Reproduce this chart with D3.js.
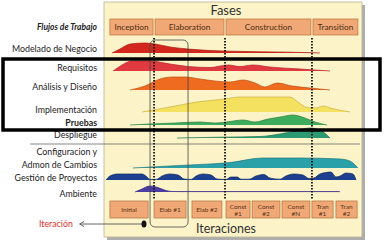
<!DOCTYPE html>
<html><head><meta charset="utf-8">
<script src="https://cdn.jsdelivr.net/npm/d3@7"></script>
<style>body{margin:0;background:#fff}svg{display:block}</style>
</head><body>
<svg id="c" width="384" height="250"></svg>
<script>
// ---------- DATA ----------
const title = "Fases";
const bottomTitle = "Iteraciones";
const leftTitle = "Flujos de Trabajo";
const phases = ["Inception", "Elaboration", "Construction", "Transition"];
const phaseBounds = [1.9, 19.4, 46.9, 80.6, 98.8]; // timeline % boundaries
const iterations = [["Initial"], ["Elab #1"], ["Elab #2"], ["Const", "#1"], ["Const", "#2"], ["Const", "#N"], ["Tran", "#1"], ["Tran", "#2"]];
const iterStart = [2.3, 19.4, 34.1, 47.3, 57.4, 69.0, 80.6, 89.9];
const iterEnd   = [17.1, 31.8, 45.7, 56.6, 68.2, 79.8, 88.8, 98.1];
const workflows = ["Modelado de Negocio", "Requisitos", "Análisis y Diseño", "Implementación", "Pruebas", "Despliegue", "Configuracion y|Admon de Cambios", "Gestión de Proyectos", "Ambiente"];
// effort curves: timeline % and effort height
const modeladoT = [3.1, 6.2, 10.1, 15.9, 19.8, 25.6, 32.6, 41.1, 48.8, 60.5, 72.1, 83.7];
const modeladoE = [0, 4, 9, 10, 9, 6, 4, 2.5, 1.8, 1.2, 0.8, 0];
const requisitosT = [3.5, 7.0, 10.9, 17.8, 25.6, 32.6, 41.1, 48.1, 52.7, 57.8, 64.3, 76.0, 87.6];
const requisitosE = [0, 6, 10, 10, 7, 4.5, 3.5, 6, 4.5, 6, 4, 2, 0];
const analisisT = [10.1, 15.9, 21.7, 26.4, 31.4, 37.2, 43.0, 48.8, 53.9, 58.5, 62.4, 67.1, 72.9, 79.8, 87.6];
const analisisE = [0, 4, 11, 13, 13, 11, 9, 8, 10, 7, 3, 7, 4, 2, 0];
const implementT = [14.7, 25.6, 36.0, 46.9, 52.7, 72.1, 75.2, 78.7, 82.6, 84.9, 88.4, 95.3];
const implementE = [0, 5, 10, 13, 15, 15, 10, 4.5, 4, 6, 3.5, 0];
const pruebasT = [10.1, 17.8, 27.5, 37.2, 43.0, 48.8, 53.9, 58.5, 63.6, 68.2, 73.3, 77.9, 81.8, 86.4];
const pruebasE = [0, 1, 2, 3, 2, 3.5, 5, 3, 6, 8, 10, 7, 3, 0];
const despliegueT = [28.3, 45.0, 60.5, 68.2, 74.0, 79.8, 83.7, 87.6];
const despliegueE = [0, 0.8, 1.5, 4, 7, 10, 8, 0];
const configT = [11.2, 21.7, 33.3, 48.8, 61.6, 76.0, 91.5, 95.3, 98.4];
const configE = [0, 1.5, 3, 5.5, 10, 10, 9, 7, 0];
const gestionT = [0.8, 2.3, 5.4, 14.7, 16.7, 17.8, 20.2, 22.5, 25.6, 28.7, 31.0, 33.7, 35.7, 38.4, 41.5, 43.8, 47.3, 49.2, 51.6, 53.1, 56.2, 58.9, 62.0, 64.3, 68.2, 70.5, 73.6, 77.1, 79.5, 81.4, 83.7, 88.0, 89.9, 91.5, 93.8, 96.5, 97.7];
const gestionE = [0, 4, 6, 6, 3, 0.6, 0.6, 4, 6, 5, 1, 0.6, 4, 6, 5, 1, 0.6, 3, 3, 0.8, 0.8, 4, 5.5, 2, 0.8, 4, 6, 5, 1.5, 2, 6, 8, 3, 4, 7, 6, 0];
const ambienteT = [12.0, 14.7, 17.8, 20.9, 24.0, 26.4, 29.5, 91.1, 91.5];
const ambienteE = [0, 3, 6, 4.5, 1.5, 0.5, 0.4, 0.4, 0];
const iterLabel = "Iteración";

// ---------- LAYOUT / STYLE ----------
const rowBase = [53, 71, 90, 112, 125, 138, 168, 180, 192];
const labelY = [52, 71, 90, 113, 126, 138, 155, 181, 197];
const colors = ["#d3261c", "#e03a40", "#ee6b20", "#f5e160", "#3dac5c", "#2a9a72", "#2aa0a8", "#1c3f8f", "#4b3ca4"];
const strokes = ["#a81810", "#b82028", "#c04a10", "#c8b040", "#2a8040", "#1d7050", "#1d7880", "#10285f", "#302080"];
const series = [[modeladoT, modeladoE], [requisitosT, requisitosE], [analisisT, analisisE], [implementT, implementE], [pruebasT, pruebasE], [despliegueT, despliegueE], [configT, configE], [gestionT, gestionE], [ambienteT, ambienteE]];
const font = "Lato, 'Open Sans', sans-serif";

const svg = d3.select("#c");
const x = d3.scaleLinear().domain([0, 100]).range([104, 362]);
const h = d3.scaleLinear().domain([0, 16]).range([0, 16]);

// panel with shadow
svg.append("rect").attr("x", 107).attr("y", 5).attr("width", 258).attr("height", 235).attr("fill", "#6a6a6a").attr("opacity", 0.55);
svg.append("rect").attr("x", 104).attr("y", 2).attr("width", 258).attr("height", 235).attr("fill", "#fcf4c8").attr("stroke", "#b9b193").attr("stroke-width", 0.8);

svg.append("text").attr("x", 226).attr("y", 15).attr("text-anchor", "middle").attr("font-family", font).attr("font-size", 13).attr("fill", "#333").text(title);

// phase header boxes
phases.forEach((p, i) => {
  const x0 = x(phaseBounds[i]) + 1, x1 = x(phaseBounds[i + 1]) - 1;
  svg.append("rect").attr("x", x0).attr("y", 19).attr("width", x1 - x0).attr("height", 16)
    .attr("fill", "#f1a877").attr("stroke", "#c07a45").attr("stroke-width", 0.8);
  svg.append("text").attr("x", (x0 + x1) / 2).attr("y", 30).attr("text-anchor", "middle")
    .attr("font-family", font).attr("font-size", 8.3).attr("fill", "#4e2e12").text(p);
});

// separator line
svg.append("line").attr("x1", 30).attr("x2", 360).attr("y1", 144).attr("y2", 144).attr("stroke", "#555").attr("stroke-width", 0.7);

// humps
series.forEach(([t, e], i) => {
  const pts = t.map((v, k) => [v, e[k]]);
  const area = d3.area().x(d => x(d[0])).y0(rowBase[i]).y1(d => rowBase[i] - h(d[1])).curve(d3.curveMonotoneX);
  const line = d3.line().x(d => x(d[0])).y(d => rowBase[i] - h(d[1])).curve(d3.curveMonotoneX);
  svg.append("path").attr("d", area(pts)).attr("fill", colors[i]);
  svg.append("path").attr("d", line(pts)).attr("fill", "none").attr("stroke", strokes[i]).attr("stroke-width", 0.7);
});

// iteration highlight (Elab #1)
svg.append("rect").attr("x", x(iterStart[1]) - 4).attr("y", 40).attr("width", x(iterEnd[1]) - x(iterStart[1]) + 6).attr("height", 187)
  .attr("rx", 5).attr("fill", "none").attr("stroke", "#444").attr("stroke-width", 0.8);

// dotted phase lines
[1, 2, 3].forEach(i => {
  const xx = x(phaseBounds[i]);
  svg.append("line").attr("x1", xx).attr("x2", xx).attr("y1", 38).attr("y2", 200)
    .attr("stroke", "#111").attr("stroke-width", 1.8).attr("stroke-dasharray", "1.5,1.5");
});

// iteration boxes
iterations.forEach((lab, i) => {
  const x0 = x(iterStart[i]), x1 = x(iterEnd[i]);
  svg.append("rect").attr("x", x0).attr("y", 201).attr("width", x1 - x0).attr("height", 17)
    .attr("fill", "#f1a877").attr("stroke", "#b87a45").attr("stroke-width", 0.8);
  lab.forEach((l, k) => {
    svg.append("text").attr("x", (x0 + x1) / 2).attr("y", lab.length === 1 ? 212 : 208.5 + k * 7)
      .attr("text-anchor", "middle").attr("font-family", font).attr("font-size", 6.5).attr("fill", "#5a3414").text(l);
  });
});

svg.append("text").attr("x", 226).attr("y", 233).attr("text-anchor", "middle").attr("font-family", font).attr("font-size", 12.5).attr("fill", "#333").text(bottomTitle);

// left labels
svg.append("text").attr("x", 97).attr("y", 30).attr("text-anchor", "end").attr("font-family", font)
  .attr("font-size", 8.5).attr("font-weight", "bold").attr("font-style", "italic").attr("fill", "#222").text(leftTitle);
workflows.forEach((w, i) => {
  const parts = w.split("|");
  parts.forEach((p, k) => {
    svg.append("text").attr("x", 97).attr("y", labelY[i] + (k - parts.length + 1) * 13 + (parts.length > 1 ? 13 : 0))
      .attr("text-anchor", "end").attr("font-family", font).attr("font-size", 8.8)
      .attr("font-weight", i === 4 ? "bold" : "normal").attr("fill", "#222").text(p);
  });
});

// iteration pointer
svg.append("text").attr("x", 39).attr("y", 227).attr("font-family", font).attr("font-size", 8.8).attr("fill", "#e8302a").text(iterLabel);
svg.append("line").attr("x1", 80).attr("x2", 143).attr("y1", 224).attr("y2", 224).attr("stroke", "#555").attr("stroke-width", 0.9);
svg.append("path").attr("d", "M84,221.5 L79.5,224 L84,226.5").attr("fill", "none").attr("stroke", "#555").attr("stroke-width", 0.9);
svg.append("ellipse").attr("cx", 144).attr("cy", 224).attr("rx", 2.5).attr("ry", 3.5).attr("fill", "#111");

// overlay highlight rectangle
svg.append("rect").attr("x", 3).attr("y", 59).attr("width", 377).attr("height", 71).attr("fill", "none").attr("stroke", "#000").attr("stroke-width", 3.5);
</script>
</body></html>
